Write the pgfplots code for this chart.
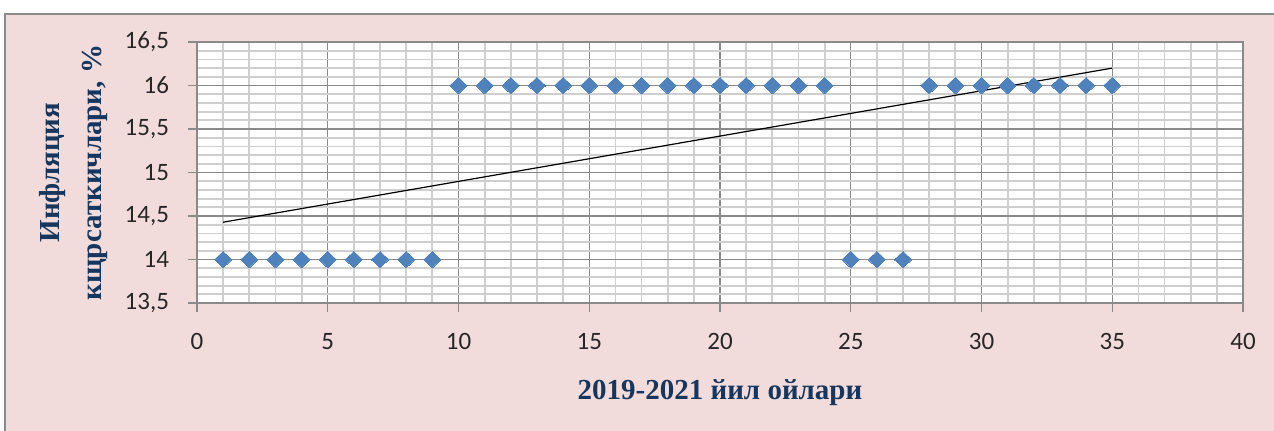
\documentclass[border=0pt]{standalone}
\usepackage{pgfplots}
\pgfplotsset{compat=1.18}
\usepackage{fontspec}
\setmainfont{Carlito}
\newfontfamily\serifb{Liberation Serif}
\definecolor{bgpink}{HTML}{F2DCDB}
\definecolor{framegray}{HTML}{8C8C8C}
\definecolor{majgray}{HTML}{8A8A8A}
\definecolor{mingray}{HTML}{CFCFCF}
\definecolor{mblue}{HTML}{4F81BD}
\definecolor{navy}{RGB}{23,54,93}
\begin{document}
\begin{tikzpicture}
\useasboundingbox (0,0) rectangle (637pt,215pt);
\clip (0,0) rectangle (637pt,215pt);
\fill[white] (0,0) rectangle (637pt,215pt);
\filldraw[fill=bgpink, draw=framegray, line width=1pt] (2.5pt,-5pt) rectangle (645pt,208pt);
\begin{axis}[
  at={(98.5pt,63.5pt)}, anchor=south west,
  scale only axis, width=523pt, height=130.5pt,
  axis background/.style={fill=white},
  xmin=0, xmax=40, ymin=13.5, ymax=16.5,
  xtick={0,5,...,40}, ytick={13.5,14,...,16.5},
  minor x tick num=4, minor y tick num=4,
  grid=both,
  major grid style={color=majgray, line width=0.6pt},
  minor grid style={color=mingray, line width=0.9pt},
  axis line style={majgray, line width=0.6pt},
  tick align=outside, tick pos=left,
  major tick length=4.5pt, minor tick length=0pt,
  every tick/.style={majgray, line width=0.6pt},
  /pgf/number format/use comma,
  /pgf/number format/assume math mode=true,
  ticklabel style={font=\fontsize{12.5}{14}\selectfont, text=black!85},
  xticklabel style={yshift=-7pt},
  yticklabel style={xshift=-6pt},
  xlabel={2019-2021 йил ойлари},
  ylabel={Инфляция\\кщрсаткичлари, \%},
  label style={font=\serifb\bfseries\fontsize{14.5}{21}\selectfont, text=navy},
  xlabel style={at={(axis description cs:0.5,-0.345)}, anchor=center},
  ylabel style={at={(axis description cs:-0.1176,0.5)}, anchor=center, align=center},
]
\addplot[mblue, only marks, mark=diamond*, mark size=4.1pt, mark options={fill=mblue, draw=mblue, line width=0pt, xscale=1.4}]
coordinates {
(1,14) (2,14) (3,14) (4,14) (5,14) (6,14) (7,14) (8,14) (9,14)
(10,16) (11,16) (12,16) (13,16) (14,16) (15,16) (16,16) (17,16) (18,16)
(19,16) (20,16) (21,16) (22,16) (23,16) (24,16)
(25,14) (26,14) (27,14)
(28,16) (29,16) (30,16) (31,16) (32,16) (33,16) (34,16) (35,16)
};
\addplot[black, line width=0.6pt] coordinates {(1,14.429) (35,16.200)};
\end{axis}
\end{tikzpicture}
\end{document}
